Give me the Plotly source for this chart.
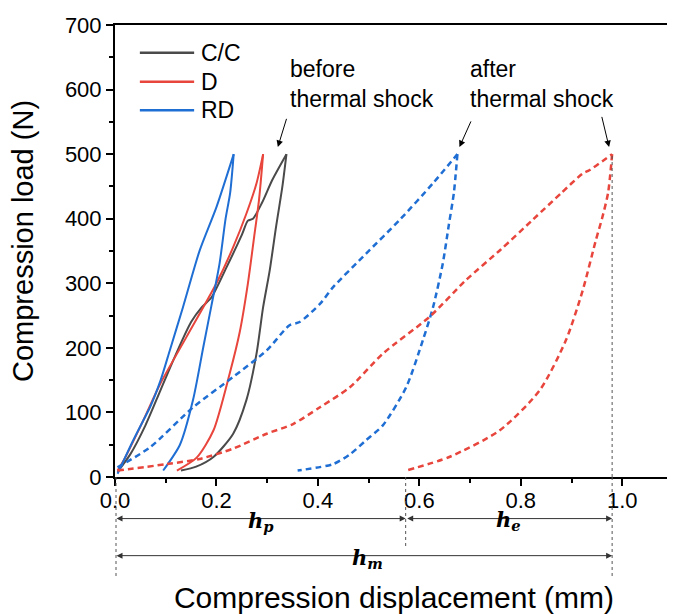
import plotly.graph_objects as go

# ---------------- data ----------------
series_names = ["C/C", "D", "RD"]
series_colors = ["#4a4a4a", "#e8453c", "#1f6ed4"]

# before thermal shock (solid): loading / unloading branches
cc_load_x = [0.005, 0.03, 0.06, 0.09, 0.12, 0.15, 0.17, 0.19, 0.22, 0.25, 0.262, 0.272, 0.29, 0.31, 0.338]
cc_load_y = [8, 35, 80, 135, 190, 240, 262, 278, 325, 375, 397, 400, 425, 460, 500]
cc_unload_x = [0.338, 0.33, 0.318, 0.305, 0.292, 0.279, 0.259, 0.233, 0.194, 0.16, 0.13]
cc_unload_y = [500, 450, 390, 320, 263, 191, 119, 67, 31, 16, 10]

d_load_x = [0.005, 0.02, 0.056, 0.089, 0.141, 0.2, 0.233, 0.26, 0.279, 0.292]
d_load_y = [10, 30, 88, 144, 217, 300, 356, 410, 455, 500]
d_unload_x = [0.292, 0.284, 0.274, 0.262, 0.246, 0.226, 0.194, 0.161, 0.122]
d_unload_y = [500, 430, 370, 300, 225, 160, 72, 30, 10]

rd_load_x = [0.005, 0.036, 0.056, 0.069, 0.09, 0.108, 0.134, 0.167, 0.2, 0.234]
rd_load_y = [5, 57, 88, 108, 150, 196, 263, 351, 418, 500]
rd_unload_x = [0.234, 0.227, 0.218, 0.206, 0.19, 0.174, 0.154, 0.128, 0.095]
rd_unload_y = [500, 440, 400, 330, 265, 201, 120, 50, 10]

# after thermal shock (dashed)
rd_after_load_x = [0.005, 0.069, 0.154, 0.233, 0.299, 0.344, 0.364, 0.404, 0.43, 0.495, 0.561, 0.627, 0.675]
rd_after_load_y = [15, 46, 108, 155, 196, 235, 240, 268, 294, 346, 398, 455, 500]
rd_after_unload_x = [0.675, 0.668, 0.658, 0.646, 0.627, 0.607, 0.574, 0.528, 0.495, 0.463, 0.43, 0.36]
rd_after_unload_y = [500, 440, 390, 330, 263, 212, 139, 80, 57, 35, 20, 10]

d_after_load_x = [0.005, 0.102, 0.167, 0.233, 0.299, 0.351, 0.404, 0.463, 0.528, 0.62, 0.692, 0.76, 0.823, 0.88, 0.922, 0.935, 0.98]
d_after_load_y = [10, 20, 28, 44, 67, 82, 108, 139, 191, 248, 305, 352, 398, 440, 470, 475, 500]
d_after_unload_x = [0.98, 0.972, 0.96, 0.948, 0.922, 0.889, 0.837, 0.758, 0.659, 0.574]
d_after_unload_y = [500, 440, 400, 367, 289, 212, 134, 72, 31, 10]

# displacement markers (mm)
h_m_value = 0.98
h_p_value = 0.573

x_tick_vals = [0.0, 0.2, 0.4, 0.6, 0.8, 1.0]
x_tick_text = ["0.0", "0.2", "0.4", "0.6", "0.8", "1.0"]
y_tick_vals = [0, 100, 200, 300, 400, 500, 600, 700]

FONT = "Liberation Sans, Arial, sans-serif"

fig = go.Figure()

solid = [
    (cc_load_x, cc_load_y, cc_unload_x, cc_unload_y),
    (d_load_x, d_load_y, d_unload_x, d_unload_y),
    (rd_load_x, rd_load_y, rd_unload_x, rd_unload_y),
]
for (lx, ly, ux, uy), name, col in zip(solid, series_names, series_colors):
    for xs, ys in ((lx, ly), (ux, uy)):
        fig.add_trace(go.Scatter(x=xs, y=ys, mode="lines", name=name,
                                 line=dict(color=col, width=2, shape="spline", smoothing=0.7),
                                 showlegend=False))

dashed = [
    (rd_after_load_x, rd_after_load_y, rd_after_unload_x, rd_after_unload_y, series_colors[2]),
    (d_after_load_x, d_after_load_y, d_after_unload_x, d_after_unload_y, series_colors[1]),
]
for lx, ly, ux, uy, col in dashed:
    for xs, ys in ((lx, ly), (ux, uy)):
        fig.add_trace(go.Scatter(x=xs, y=ys, mode="lines",
                                 line=dict(color=col, width=2.5, dash="6px,4px",
                                           shape="spline", smoothing=0.7), showlegend=False))

shapes = []
annotations = []

# manual legend
leg_y = [657, 612, 568]
for name, col, ly in zip(series_names, series_colors, leg_y):
    shapes.append(dict(type="line", xref="x", yref="y", x0=0.049, x1=0.156, y0=ly, y1=ly,
                       line=dict(color=col, width=2.5)))
    annotations.append(dict(xref="x", yref="y", x=0.165, y=ly, text=name, showarrow=False,
                            xanchor="left", yanchor="middle", font=dict(size=23, color="black", family=FONT)))

# dotted guide lines
dot = dict(color="#555555", width=1, dash="dot")
shapes.append(dict(type="line", xref="x", yref="paper", x0=0.002, x1=0.002, y0=0, y1=-0.225, line=dot))
shapes.append(dict(type="line", xref="x", yref="paper", x0=h_p_value, x1=h_p_value, y0=0, y1=-0.156, line=dot))
shapes.append(dict(type="line", xref="x", yref="paper", x0=h_m_value, x1=h_m_value, y0=0, y1=-0.225, line=dot))
shapes.append(dict(type="line", xref="x", yref="y", x0=h_m_value, x1=h_m_value, y0=0, y1=500, line=dot))

# double arrows
def darrow(x_start, x_end, yp):
    return dict(xref="x", yref="paper", x=x_end, y=yp, axref="x", ayref="pixel", ax=x_start, ay=0,
                text="", showarrow=True, arrowhead=2, startarrowhead=2, arrowside="end+start",
                arrowsize=1.2, startarrowsize=1.2, arrowwidth=1, arrowcolor="#333333")

annotations.append(darrow(0.0, h_p_value, -0.092))
annotations.append(darrow(h_p_value, h_m_value, -0.092))
annotations.append(darrow(0.0, h_m_value, -0.174))

HFONT = dict(family="DejaVu Serif, Liberation Serif, serif", size=21, color="black")
annotations.append(dict(xref="x", yref="paper", x=0.288, y=-0.133, showarrow=False,
                        text="<b><i>h</i></b><sub><b><i>p</i></b></sub>", font=HFONT))
annotations.append(dict(xref="x", yref="paper", x=0.775, y=-0.131, showarrow=False,
                        text="<b><i>h</i></b><sub><b><i>e</i></b></sub>", font=HFONT))
annotations.append(dict(xref="x", yref="paper", x=0.498, y=-0.214, showarrow=False,
                        text="<b><i>h</i></b><sub><b><i>m</i></b></sub>", font=HFONT))

# text callouts
TFONT = dict(family=FONT, size=23, color="black")
annotations.append(dict(xref="x", yref="y", x=0.341, y=609, text="before<br>thermal shock", showarrow=False,
                        xanchor="left", yanchor="middle", align="left", font=TFONT))
annotations.append(dict(xref="x", yref="y", x=0.695, y=609, text="after<br>thermal shock", showarrow=False,
                        xanchor="left", yanchor="middle", align="left", font=TFONT))

def parrow(hx, hy, tx, ty):
    return dict(xref="x", yref="y", x=hx, y=hy, axref="x", ayref="y", ax=tx, ay=ty, text="",
                showarrow=True, arrowhead=2, arrowsize=1.3, arrowwidth=1, arrowcolor="black")

annotations.append(parrow(0.321, 511, 0.339, 557))
annotations.append(parrow(0.679, 511, 0.703, 553))
annotations.append(parrow(0.974, 511, 0.959, 560))

# y-axis title as rotated annotation (slightly above centre, as in the original)
annotations.append(dict(xref="paper", yref="paper", x=-0.165, y=0.522, text="Compression load (N)",
                        textangle=-90, showarrow=False, xanchor="center", yanchor="middle",
                        font=dict(size=29, family=FONT, color="black")))

fig.update_layout(
    width=667, height=606,
    margin=dict(l=107, r=2, t=17, b=137),
    paper_bgcolor="white", plot_bgcolor="white",
    font=dict(family=FONT, color="black"),
    shapes=shapes, annotations=annotations,
    xaxis=dict(range=[0, 1.1], tickvals=x_tick_vals, ticktext=x_tick_text, automargin=False,
               ticks="outside", ticklen=7, tickwidth=2, tickcolor="black", ticklabelstandoff=-4,
               minor=dict(dtick=0.1, ticks="outside", ticklen=4, tickwidth=2, tickcolor="black", showgrid=False),
               showline=True, linecolor="black", linewidth=2, mirror=True,
               showgrid=False, zeroline=False,
               tickfont=dict(size=22, family=FONT),
               title=dict(text="Compression displacement (mm)", font=dict(size=30, family=FONT), standoff=81)),
    yaxis=dict(range=[0, 700], tickvals=y_tick_vals, automargin=False,
               ticks="outside", ticklen=7, tickwidth=2, tickcolor="black",
               minor=dict(dtick=50, ticks="outside", ticklen=4, tickwidth=2, tickcolor="black", showgrid=False),
               showline=True, linecolor="black", linewidth=2, mirror=True,
               showgrid=False, zeroline=False,
               tickfont=dict(size=22, family=FONT)),
)

fig.write_html("out.html")
